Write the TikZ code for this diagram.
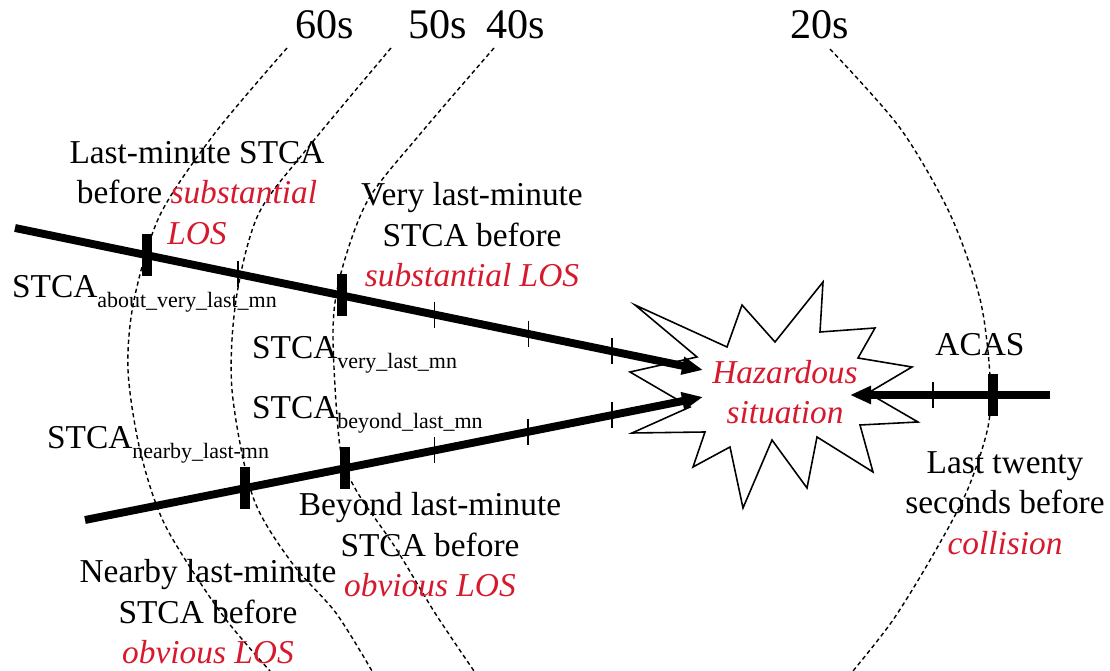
\documentclass[tikz,border=0pt]{standalone}
\usepackage{fontspec}
\setmainfont{Liberation Serif}
\usetikzlibrary{arrows.meta,calc}
\definecolor{losred}{RGB}{215,25,45}
\newcommand{\los}[1]{\textcolor{losred}{\textit{#1}}}
\newcommand{\mnsub}[1]{\raisebox{-5.5pt}{\fontsize{12.5}{15}\selectfont #1}}

\begin{document}
\begin{tikzpicture}[x=0.02cm, y=-0.02cm,
    every node/.style={font=\fontsize{19}{23}\selectfont, align=center, inner sep=1pt},
    secs/.style={font=\fontsize{24}{28}\selectfont},
    track/.style={line width=4.5pt, -{Triangle[length=0.42cm,width=0.34cm]}},
    bigmark/.style={line width=5.5pt},
    tick/.style={line width=0.8pt},
    horizon/.style={dash pattern=on 2.4pt off 1.8pt, line width=0.8pt}]
    \useasboundingbox (0,0) rectangle (1110,671);
    % time horizons
    \node[secs] (t60) at (325,25) {60s};
    \node[secs] (t50) at (438,25) {50s};
    \node[secs] (t40) at (516,25) {40s};
    \node[secs] (t20) at (820,25) {20s};
    \draw[horizon] plot[smooth] coordinates {(287,48) (215,133) (160,215) (134,300) (128,370) (140,450) (165,525) (221,613) (270,671)};
    \draw[horizon] plot[smooth] coordinates {(391,48) (306,150) (258,215) (236,300) (232,390) (253,497) (292,563) (336,613) (372,671)};
    \draw[horizon] plot[smooth] coordinates {(494,48) (421,133) (368,200) (341,273) (333,333) (340,447) (356,490) (395,547) (435,613) (474,671)};
    \draw[horizon] plot[smooth] coordinates {(830,49) (900,128) (950,214) (980,299) (990,376) (988,427) (967,491) (933,555) (893,620) (853,671)};
    % hazard star
    \draw[line width=0.9pt, fill=white] (635,305) -- (727,347) -- (742,305) -- (775,342) -- (823,282) -- (820,332)
        -- (875,328) -- (858,358) -- (912,367) -- (868,393) -- (918,422) -- (860,425) -- (873,472) -- (817,437)
        -- (807,488) -- (772,440) -- (743,508) -- (730,447) -- (693,467) -- (705,432) -- (632,433) -- (690,407)
        -- (630,372) -- (697,357) -- cycle;
    \node (hazard) at (785,392) {\los{Hazardous}\\\los{situation}};
    % tracks
    \coordinate (uS) at (15,228);
    \coordinate (uE) at (703,370);
    \coordinate (lS) at (85,520);
    \coordinate (lE) at (703,397);
    \coordinate (rS) at (1050,395);
    \coordinate (rE) at (850,395);
    \draw[track] (uS) -- (uE);
    \draw[track] (lS) -- (lE);
    \draw[track] (rS) -- (rE);
    \foreach \f in {0.192,0.475} \draw[bigmark] ($(uS)!\f!(uE)$) ++(0,-21) -- ++(0,42);
    \foreach \f in {0.324,0.610,0.746,0.868} \draw[tick] ($(uS)!\f!(uE)$) ++(0,-13) -- ++(0,26);
    \foreach \f in {0.259,0.421} \draw[bigmark] ($(lS)!\f!(lE)$) ++(0,-21) -- ++(0,42);
    \foreach \f in {0.566,0.717,0.853} \draw[tick] ($(lS)!\f!(lE)$) ++(0,-13) -- ++(0,26);
    \draw[bigmark] ($(rS)!0.285!(rE)$) ++(0,-21) -- ++(0,42);
    \draw[tick] ($(rS)!0.585!(rE)$) ++(0,-13) -- ++(0,26);
    % labels
    \node (lastmin) at (197,193) {Last-minute STCA\\before \los{substantial}\\\los{LOS}};
    \node (verylast) at (472,235) {Very last-minute\\STCA before\\\los{substantial LOS}};
    \node[anchor=west] (about) at (10,294) {STCA\mnsub{about\_very\_last\_mn}};
    \node[anchor=west] (very) at (250,355) {STCA\mnsub{very\_last\_mn}};
    \node[anchor=west] (beyond) at (250,415) {STCA\mnsub{beyond\_last\_mn}};
    \node[anchor=west] (nearby) at (45,445) {STCA\mnsub{nearby\_last-mn}};
    \node (beyondtxt) at (430,545) {Beyond last-minute\\STCA before\\\los{obvious LOS}};
    \node (nearbytxt) at (208,612) {Nearby last-minute\\STCA before\\\los{obvious LOS}};
    \node (acas) at (980,345) {ACAS};
    \node (twenty) at (1005,503) {Last twenty\\seconds before\\\los{collision}};
\end{tikzpicture}
\end{document}
